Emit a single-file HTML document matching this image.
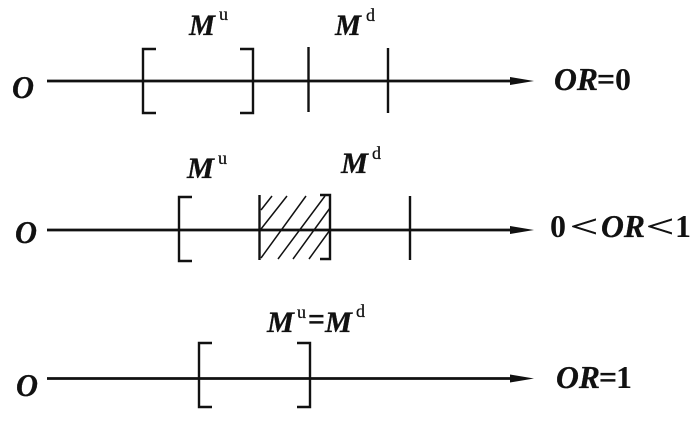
<!DOCTYPE html>
<html><head><meta charset="utf-8"><style>
html,body{margin:0;padding:0;background:#fff}
svg{display:block}
text{font-family:"Liberation Serif",serif;font-weight:bold;fill:#111;stroke:#111;stroke-width:.3}
.i{font-style:italic}
.s{font-size:18px;font-weight:normal;stroke-width:.25}
.b{font-size:32px}
.m{font-size:30px}
.n{font-weight:normal;stroke-width:.5}
.d{stroke-width:0}
</style></head><body>
<svg width="700" height="422" viewBox="0 0 700 422" xmlns="http://www.w3.org/2000/svg">
<g fill="none" stroke="#111" stroke-width="2.4">
<path d="M47 81H520M47 230H520M47 378.5H520" stroke-width="2.8"/>
<path d="M156 49H143V113H156M240 49H253V113H240M308.500 47V112M388 48V113"/>
<path d="M192 197H179V261H192M259.500 195V260M320 195H330V259H320M410 196V260"/>
<path d="M212 343H199V407H212M297 343H310V407H297"/>
</g>
<g fill="none" stroke="#111" stroke-width="1.5">
<path d="M261 210L272 196M261 229L287 196M261 258L306 196M278 259L325 196M293 259L330 208M309 259L330 230"/>
</g>
<g fill="#111">
<path d="M510 77L534 81L510 85Z"/>
<path d="M510 226L534 230L510 234Z"/>
<path d="M510 374.500L534 378.500L510 382.500Z"/>
</g>
<text class="b i" x="12" y="98" textLength="22" lengthAdjust="spacingAndGlyphs">O</text>
<text class="b i" x="15" y="243" textLength="22" lengthAdjust="spacingAndGlyphs">O</text>
<text class="b i" x="16" y="396" textLength="22" lengthAdjust="spacingAndGlyphs">O</text>
<text class="m i" x="189" y="35" textLength="26" lengthAdjust="spacingAndGlyphs">M</text><text class="s" x="219" y="20">u</text>
<text class="m i" x="335" y="35" textLength="26" lengthAdjust="spacingAndGlyphs">M</text><text class="s" x="366" y="21">d</text>
<text class="m i" x="187" y="178" textLength="27" lengthAdjust="spacingAndGlyphs">M</text><text class="s" x="218" y="164">u</text>
<text class="m i" x="341" y="173" textLength="27" lengthAdjust="spacingAndGlyphs">M</text><text class="s" x="372" y="159">d</text>
<text class="m i" x="267" y="332" textLength="27" lengthAdjust="spacingAndGlyphs">M</text><text class="s" x="297" y="318">u</text>
<text class="b" x="308" y="330" textLength="17" lengthAdjust="spacingAndGlyphs">=</text>
<text class="m i" x="325" y="332" textLength="27" lengthAdjust="spacingAndGlyphs">M</text><text class="s" x="356" y="317">d</text>
<text class="b i" x="554" y="90" textLength="44" lengthAdjust="spacingAndGlyphs">OR</text>
<text class="b" x="597" y="90" textLength="18" lengthAdjust="spacingAndGlyphs">=</text>
<text class="b d" x="615" y="90">0</text>
<text class="b d" x="550" y="237">0</text>
<text class="b n" x="570" y="237" textLength="28" lengthAdjust="spacingAndGlyphs">&lt;</text>
<text class="b i" x="601" y="237" textLength="44" lengthAdjust="spacingAndGlyphs">OR</text>
<text class="b n" x="646" y="237" textLength="28" lengthAdjust="spacingAndGlyphs">&lt;</text>
<text class="b d" x="675" y="237">1</text>
<text class="b i" x="556" y="388" textLength="44" lengthAdjust="spacingAndGlyphs">OR</text>
<text class="b" x="599" y="388" textLength="18" lengthAdjust="spacingAndGlyphs">=</text>
<text class="b d" x="616" y="388">1</text>
</svg>
</body></html>
